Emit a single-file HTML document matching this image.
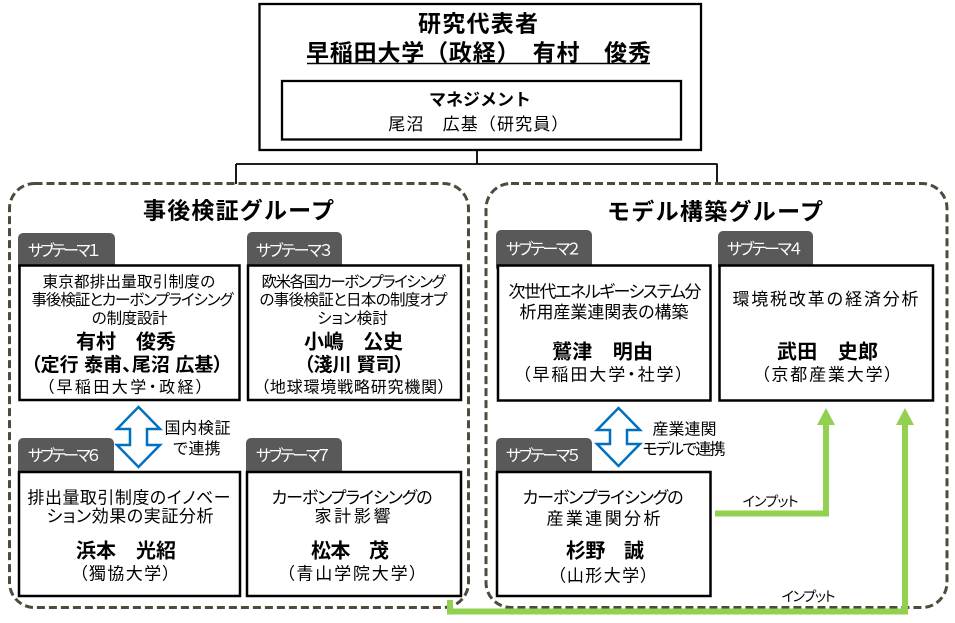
<!DOCTYPE html>
<html><head><meta charset="utf-8">
<style>
html,body{margin:0;padding:0;background:#fff;}
svg{display:block;}
text{font-family:"Liberation Sans","Noto Sans CJK JP",sans-serif;fill:#000;}
.p{font-feature-settings:"palt";}
.b{font-weight:bold;}
.tab{fill:#fff;font-size:16px;}
</style></head>
<body>
<svg width="955" height="623" viewBox="0 0 955 623" xmlns="http://www.w3.org/2000/svg">
<rect x="0" y="0" width="955" height="623" fill="#fff"/>

<!-- connectors -->
<g stroke="#000" stroke-width="1.8" fill="none">
<line x1="477" y1="150" x2="477" y2="164"/>
<line x1="236" y1="164" x2="717.5" y2="164"/>
<line x1="236" y1="164" x2="236" y2="184"/>
<line x1="717" y1="164" x2="717" y2="184"/>
</g>

<!-- group dashed boxes -->
<g stroke="#4f4b3c" stroke-width="3" fill="none" stroke-dasharray="8 4">
<rect x="9.5" y="183.5" width="459" height="424" rx="25" ry="25"/>
<rect x="486" y="183.5" width="461" height="424" rx="25" ry="25"/>
</g>

<!-- top box -->
<rect x="259.5" y="4" width="441.5" height="146" fill="#fff" stroke="#000" stroke-width="2.3"/>
<rect x="282" y="81" width="399" height="58.5" fill="#fff" stroke="#000" stroke-width="2.3"/>
<text x="478" y="31.7" font-size="23" class="b" text-anchor="middle" textLength="120" lengthAdjust="spacing">研究代表者</text>
<text x="478.5" y="60.7" font-size="23" class="b" text-anchor="middle" textLength="345" lengthAdjust="spacing">早稲田大学（政経）　有村　俊秀</text>
<line x1="307" y1="63.5" x2="650" y2="63.5" stroke="#000" stroke-width="1.5"/>
<text x="480" y="105.5" font-size="17" class="b" text-anchor="middle" textLength="102" lengthAdjust="spacing">マネジメント</text>
<text x="478.3" y="130" font-size="17" text-anchor="middle" textLength="180" lengthAdjust="spacing">尾沼　広基（研究員）</text>

<!-- group titles -->
<text x="238.5" y="218.7" font-size="23" class="b" text-anchor="middle" textLength="191" lengthAdjust="spacing">事後検証グループ</text>
<text x="715" y="219.7" font-size="23" class="b" text-anchor="middle" textLength="216" lengthAdjust="spacing">モデル構築グループ</text>

<!-- tabs -->
<g fill="#595959">
<rect x="18" y="233" width="97" height="40" rx="5"/>
<rect x="247" y="232" width="95" height="40" rx="5"/>
<rect x="496" y="230" width="96" height="42" rx="5"/>
<rect x="718" y="231" width="95" height="40" rx="5"/>
<rect x="18" y="438" width="96" height="40" rx="5"/>
<rect x="246" y="438" width="96" height="40" rx="5"/>
<rect x="496" y="438" width="96" height="40" rx="5"/>
</g>
<text class="tab p" x="28" y="256" textLength="72" lengthAdjust="spacing">サブテーマ１</text>
<text class="tab p" x="256" y="256" textLength="76" lengthAdjust="spacing">サブテーマ３</text>
<text class="tab p" x="506" y="254.5" textLength="74" lengthAdjust="spacing">サブテーマ２</text>
<text class="tab p" x="727" y="254.5" textLength="75" lengthAdjust="spacing">サブテーマ４</text>
<text class="tab p" x="28" y="461" textLength="72" lengthAdjust="spacing">サブテーマ６</text>
<text class="tab p" x="256" y="461" textLength="74" lengthAdjust="spacing">サブテーマ７</text>
<text class="tab p" x="506" y="461" textLength="74" lengthAdjust="spacing">サブテーマ５</text>

<!-- boxes -->
<g fill="#fff" stroke="#000" stroke-width="2.5">
<rect x="19.5" y="265.5" width="220" height="134.5"/>
<rect x="248" y="265.5" width="213" height="134.5"/>
<rect x="498" y="265.5" width="212.5" height="135"/>
<rect x="719.5" y="265.5" width="213.5" height="135"/>
<rect x="19" y="472" width="221" height="124"/>
<rect x="247" y="472" width="214" height="124"/>
<rect x="497" y="472" width="213.5" height="124"/>
</g>

<!-- B1 -->
<text x="129" y="286.9" font-size="15.5" text-anchor="middle" textLength="173" lengthAdjust="spacing">東京都排出量取引制度の</text>
<text x="132.5" y="304.9" font-size="15.5" class="p" text-anchor="middle" textLength="202" lengthAdjust="spacing">事後検証とカーボンプライシング</text>
<text x="129.5" y="323.4" font-size="15.5" text-anchor="middle" textLength="76" lengthAdjust="spacing">の制度設計</text>
<text x="126" y="348.6" font-size="20" class="b" text-anchor="middle" textLength="100" lengthAdjust="spacing">有村　俊秀</text>
<text x="127" y="371.2" font-size="19" class="b p" text-anchor="middle" textLength="192" lengthAdjust="spacing">（定行 泰甫、尾沼 広基）</text>
<text x="125" y="392.6" font-size="16" class="p" text-anchor="middle" textLength="158" lengthAdjust="spacing">（早稲田大学・政経）</text>

<!-- B3 -->
<text x="353.5" y="286.9" font-size="15.5" class="p" text-anchor="middle" textLength="184" lengthAdjust="spacing">欧米各国カーボンプライシング</text>
<text x="353.5" y="304.9" font-size="15.5" class="p" text-anchor="middle" textLength="188" lengthAdjust="spacing">の事後検証と日本の制度オプ</text>
<text x="352.5" y="323.4" font-size="15.5" class="p" text-anchor="middle">ション検討</text>
<text x="353.5" y="348.6" font-size="20" class="b" text-anchor="middle" textLength="99" lengthAdjust="spacing">小嶋　公史</text>
<text x="354" y="371.2" font-size="19" class="b p" text-anchor="middle" textLength="100" lengthAdjust="spacing">（淺川 賢司）</text>
<text x="353.5" y="392.6" font-size="16" class="p" text-anchor="middle" textLength="185" lengthAdjust="spacing">（地球環境戦略研究機関）</text>

<!-- B6 -->
<text x="129" y="503.5" font-size="17" class="p" text-anchor="middle" textLength="203" lengthAdjust="spacing">排出量取引制度のイノベー</text>
<text x="130" y="522" font-size="17" class="p" text-anchor="middle" textLength="167" lengthAdjust="spacing">ション効果の実証分析</text>
<text x="126" y="557.6" font-size="20" class="b" text-anchor="middle" textLength="100" lengthAdjust="spacing">浜本　光紹</text>
<text x="125" y="579.5" font-size="17" class="p" text-anchor="middle" textLength="92" lengthAdjust="spacing">（獨協大学）</text>

<!-- B7 -->
<text x="352" y="503.5" font-size="17" class="p" text-anchor="middle" textLength="161" lengthAdjust="spacing">カーボンプライシングの</text>
<text x="352.5" y="522" font-size="17" text-anchor="middle" textLength="76" lengthAdjust="spacing">家計影響</text>
<text x="350" y="557.6" font-size="20" class="b" text-anchor="middle" textLength="78" lengthAdjust="spacing">松本　茂</text>
<text x="352" y="579.5" font-size="17" class="p" text-anchor="middle" textLength="132" lengthAdjust="spacing">（青山学院大学）</text>

<!-- B2 -->
<text x="605" y="297.5" font-size="17" class="p" text-anchor="middle" textLength="193" lengthAdjust="spacing">次世代エネルギーシステム分</text>
<text x="604" y="318" font-size="17" class="p" text-anchor="middle" textLength="169" lengthAdjust="spacing">析用産業連関表の構築</text>
<text x="602.5" y="358.6" font-size="20" class="b" text-anchor="middle" textLength="101" lengthAdjust="spacing">鷲津　明由</text>
<text x="603" y="380.5" font-size="17" class="p" text-anchor="middle" textLength="162" lengthAdjust="spacing">（早稲田大学・社学）</text>

<!-- B4 -->
<text x="825.5" y="305" font-size="17" text-anchor="middle" textLength="186" lengthAdjust="spacing">環境税改革の経済分析</text>
<text x="827.5" y="358.6" font-size="20" class="b" text-anchor="middle" textLength="101" lengthAdjust="spacing">武田　史郎</text>
<text x="827" y="380.5" font-size="17" class="p" text-anchor="middle" textLength="132" lengthAdjust="spacing">（京都産業大学）</text>

<!-- B5 -->
<text x="603" y="503.5" font-size="17" class="p" text-anchor="middle" textLength="161" lengthAdjust="spacing">カーボンプライシングの</text>
<text x="603.5" y="524.5" font-size="17" text-anchor="middle" textLength="114" lengthAdjust="spacing">産業連関分析</text>
<text x="605" y="557.6" font-size="20" class="b" text-anchor="middle" textLength="78" lengthAdjust="spacing">杉野　誠</text>
<text x="603" y="581.5" font-size="17" class="p" text-anchor="middle" textLength="92" lengthAdjust="spacing">（山形大学）</text>

<!-- blue double arrows -->
<g fill="#fff" stroke="#0070C0" stroke-width="2.5" stroke-linejoin="miter">
<polygon points="138.5,407 160,429 147,429 147,445 160,445 138.5,467 117,445 130,445 130,429 117,429"/>
<polygon points="618.5,408 640,430 627,430 627,444 640,444 618.5,466 597,444 610,444 610,430 597,430"/>
</g>
<text x="197.5" y="433.6" font-size="16" text-anchor="middle" textLength="66" lengthAdjust="spacing">国内検証</text>
<text x="196.5" y="454.1" font-size="16" text-anchor="middle" textLength="48" lengthAdjust="spacing">で連携</text>
<text x="684.5" y="434.6" font-size="16" text-anchor="middle" textLength="64" lengthAdjust="spacing">産業連関</text>
<text x="684" y="454.6" font-size="16" class="p" text-anchor="middle" textLength="83" lengthAdjust="spacing">モデルで連携</text>

<!-- green arrows -->
<g fill="none" stroke="#92D050" stroke-width="6" stroke-linejoin="miter">
<path d="M715,513.5 H826 V423"/>
<path d="M450,600 V611.5 H905 V423"/>
</g>
<g fill="#92D050">
<polygon points="826,408 835,425 817,425"/>
<polygon points="905,408 914,425 896,425"/>
</g>
<text x="770.5" y="506.3" font-size="14" class="p" text-anchor="middle" textLength="56" lengthAdjust="spacing">インプット</text>
<text x="808.5" y="601.3" font-size="14" class="p" text-anchor="middle" textLength="54" lengthAdjust="spacing">インプット</text>
</svg>
</body></html>
